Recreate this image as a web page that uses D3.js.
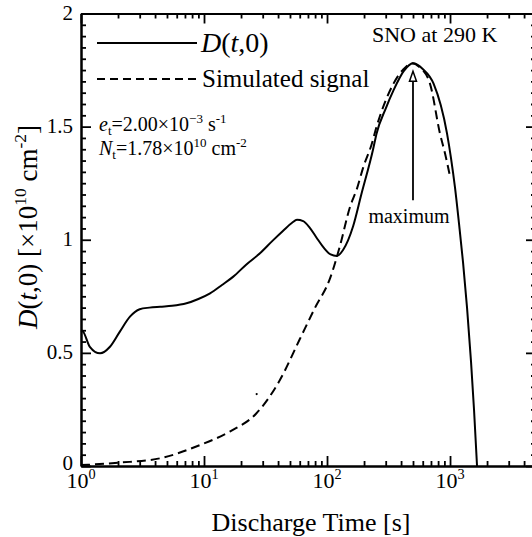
<!DOCTYPE html>
<html><head><meta charset="utf-8">
<script src="https://cdn.jsdelivr.net/npm/d3@7"></script>
<style>
body{margin:0;background:#fff}
</style>
</head><body>
<svg id="c" width="532" height="537" font-family="'Liberation Serif', 'Times New Roman', 'DejaVu Serif', serif"></svg>
<script>
// ---- data ----
const xDomain = [1, 5000];
const yDomain = [0, 2];
const xMajorTicks = [1, 10, 100, 1000];
const xTickExps = ["0", "1", "2", "3"];
const yMajorTicks = [0, 0.5, 1, 1.5, 2];
const yTickLabels = ["0", "0.5", "1", "1.5", "2"];

// D(t,0) curve
const dTime  = [1, 1.04, 1.18, 1.43, 1.72, 2.07, 2.5, 3.0, 3.6, 4.4, 5.5, 7.2, 9, 11.2, 14, 17.3, 22, 28.5, 36, 44, 52, 57, 64, 72, 82, 94, 107, 120, 135, 163, 190, 237, 253, 300, 347, 420, 500, 600, 735, 945, 1019, 1098, 1184, 1276, 1375, 1482, 1567, 1658];
const dValue = [0.60, 0.594, 0.527, 0.498, 0.527, 0.594, 0.66, 0.693, 0.700, 0.704, 0.708, 0.719, 0.738, 0.763, 0.80, 0.837, 0.89, 0.94, 0.995, 1.04, 1.075, 1.088, 1.082, 1.055, 1.01, 0.965, 0.935, 0.928, 0.955, 1.06, 1.20, 1.40, 1.47, 1.58, 1.66, 1.745, 1.78, 1.755, 1.69, 1.47, 1.36, 1.23, 1.07, 0.90, 0.70, 0.46, 0.25, 0.0];

// Simulated signal
const simTime  = [1, 1.18, 2.07, 4.39, 9.3, 16.2, 26.7, 41.4, 60, 80, 106, 127, 154, 175, 197, 230, 253, 347, 420, 490, 560, 687, 828, 912, 1000];
const simValue = [0.004, 0.006, 0.015, 0.034, 0.093, 0.152, 0.233, 0.38, 0.56, 0.70, 0.83, 0.97, 1.146, 1.225, 1.32, 1.42, 1.50, 1.69, 1.755, 1.78, 1.765, 1.69, 1.47, 1.38, 1.28];

// stray dot visible in the original figure
const strayTime = [26.8];
const strayValue = [0.318];

const peakTime = 500;
const arrowTipValue = 1.745;
const arrowBaseValue = 1.175;

// ---- layout ----
const svg = d3.select("#c");
const L = 81, R = 536, T = 13.5, B = 466;
const x = d3.scaleLog().domain(xDomain).range([L, R]);
const y = d3.scaleLinear().domain(yDomain).range([B, T]);

// ---- axes ticks ----
const allX = x.ticks().filter(v => v >= xDomain[0] && v <= xDomain[1]);
const isMaj = v => Math.abs(Math.log10(v) - Math.round(Math.log10(v))) < 1e-9;
const xMinor = allX.filter(v => !isMaj(v));
const yMinor = d3.range(0, 2.0001, 0.05).map(v => +v.toFixed(2)).filter(v => !yMajorTicks.includes(v));

function styleAxis(g){
  g.selectAll("path.domain").attr("stroke","#000").attr("stroke-width",2);
  g.selectAll(".tick line").attr("stroke","#000").attr("stroke-width",1.8);
  g.selectAll(".tick text").remove();
}
function ax(gen, tr, vals, size){
  svg.append("g").attr("transform",tr)
    .call(gen.tickValues(vals).tickSizeInner(size).tickSizeOuter(0).tickFormat("")).call(styleAxis);
}
ax(d3.axisBottom(x), `translate(0,${B})`, xMinor, -5);
ax(d3.axisBottom(x), `translate(0,${B})`, xMajorTicks, -10);
ax(d3.axisTop(x), `translate(0,${T})`, xMinor, -5);
ax(d3.axisTop(x), `translate(0,${T})`, xMajorTicks, -10);
ax(d3.axisLeft(y), `translate(${L},0)`, yMinor, -5);
ax(d3.axisLeft(y), `translate(${L},0)`, yMajorTicks, -10);
ax(d3.axisRight(y), `translate(${R},0)`, yMinor, -5);
ax(d3.axisRight(y), `translate(${R},0)`, yMajorTicks, -10);

// ---- rich text helper ----
function rich(sel, parts, baseSize){
  let cur = 0;
  parts.forEach(p => {
    let target = 0, size = baseSize;
    if (p.s === "sup"){ target = -baseSize*0.42; size = baseSize*0.65; }
    if (p.s === "sub"){ target = baseSize*0.18; size = baseSize*0.65; }
    const ts = sel.append("tspan").text(p.t).attr("font-size", size);
    if (target !== cur) ts.attr("dy", target - cur);
    if (p.i) ts.attr("font-style","italic");
    cur = target;
  });
  return sel;
}

// x tick labels
xMajorTicks.forEach((v,i) => {
  const t = svg.append("text").attr("x", x(v)).attr("y", 488).attr("text-anchor","middle").attr("font-size",22);
  rich(t, [{t:"10"},{t:xTickExps[i], s:"sup"}], 22);
});
// y tick labels
yMajorTicks.forEach((v,i) => {
  svg.append("text").attr("x", 73).attr("y", y(v)).attr("dy", v === 0 ? "0.2em" : "0.3em")
    .attr("text-anchor","end").attr("font-size",21).text(yTickLabels[i]);
});

// axis titles
svg.append("text").attr("x", 311).attr("y", 531).attr("text-anchor","middle")
  .attr("font-size",26).text("Discharge Time [s]");
const yt = svg.append("text").attr("transform","translate(37,227) rotate(-90)")
  .attr("text-anchor","middle").attr("font-size",27);
rich(yt, [{t:"D",i:1},{t:"("},{t:"t",i:1},{t:",0) [×10"},{t:"10",s:"sup"},{t:" cm"},{t:"-2",s:"sup"},{t:"]"}], 27);

// ---- curves ----
const dData = dTime.map((t,i)=>({t, v:dValue[i]}));
const sData = simTime.map((t,i)=>({t, v:simValue[i]}));
const line = d3.line().x(d=>x(d.t)).y(d=>y(d.v)).curve(d3.curveMonotoneX);
svg.append("path").datum(sData).attr("d", line).attr("fill","none")
  .attr("stroke","#000").attr("stroke-width",2).attr("stroke-dasharray","9,5");
svg.append("path").datum(dData).attr("d", line).attr("fill","none")
  .attr("stroke","#000").attr("stroke-width",2);
svg.selectAll("circle.stray").data(strayTime).enter().append("circle")
  .attr("cx", d => x(d)).attr("cy", (d,i) => y(strayValue[i])).attr("r", 1.1).attr("fill","#000");

// ---- legend ----
svg.append("line").attr("x1",97).attr("x2",197).attr("y1",43).attr("y2",43).attr("stroke","#000").attr("stroke-width",2);
rich(svg.append("text").attr("x",201).attr("y",52).attr("font-size",28),
  [{t:"D",i:1},{t:"("},{t:"t",i:1},{t:",0)"}], 28);
svg.append("line").attr("x1",97).attr("x2",197).attr("y1",79).attr("y2",79).attr("stroke","#000").attr("stroke-width",2).attr("stroke-dasharray","8,5");
svg.append("text").attr("x",202).attr("y",87).attr("font-size",25).text("Simulated signal");

// parameters
rich(svg.append("text").attr("x",99).attr("y",131).attr("font-size",20),
  [{t:"e",i:1},{t:"t",s:"sub"},{t:"=2.00×10"},{t:"−3",s:"sup"},{t:" s"},{t:"-1",s:"sup"}], 20);
rich(svg.append("text").attr("x",99).attr("y",155).attr("font-size",20),
  [{t:"N",i:1},{t:"t",s:"sub"},{t:"=1.78×10"},{t:"10",s:"sup"},{t:" cm"},{t:"-2",s:"sup"}], 20);

svg.append("text").attr("x",372).attr("y",42).attr("font-size",22).text("SNO at 290 K");

// maximum arrow
const axX = x(peakTime), tipY = y(arrowTipValue);
svg.append("line").attr("x1",axX).attr("x2",axX).attr("y1",y(arrowBaseValue)).attr("y2",tipY+9)
  .attr("stroke","#000").attr("stroke-width",1.8);
svg.append("path").attr("d",`M${axX},${tipY} L${axX-3.5},${tipY+10} L${axX+3.5},${tipY+10} Z`)
  .attr("fill","#fff").attr("stroke","#000").attr("stroke-width",1.5);
svg.append("text").attr("x",axX-4).attr("y",223).attr("text-anchor","middle").attr("font-size",20).text("maximum");
</script>
</body></html>
